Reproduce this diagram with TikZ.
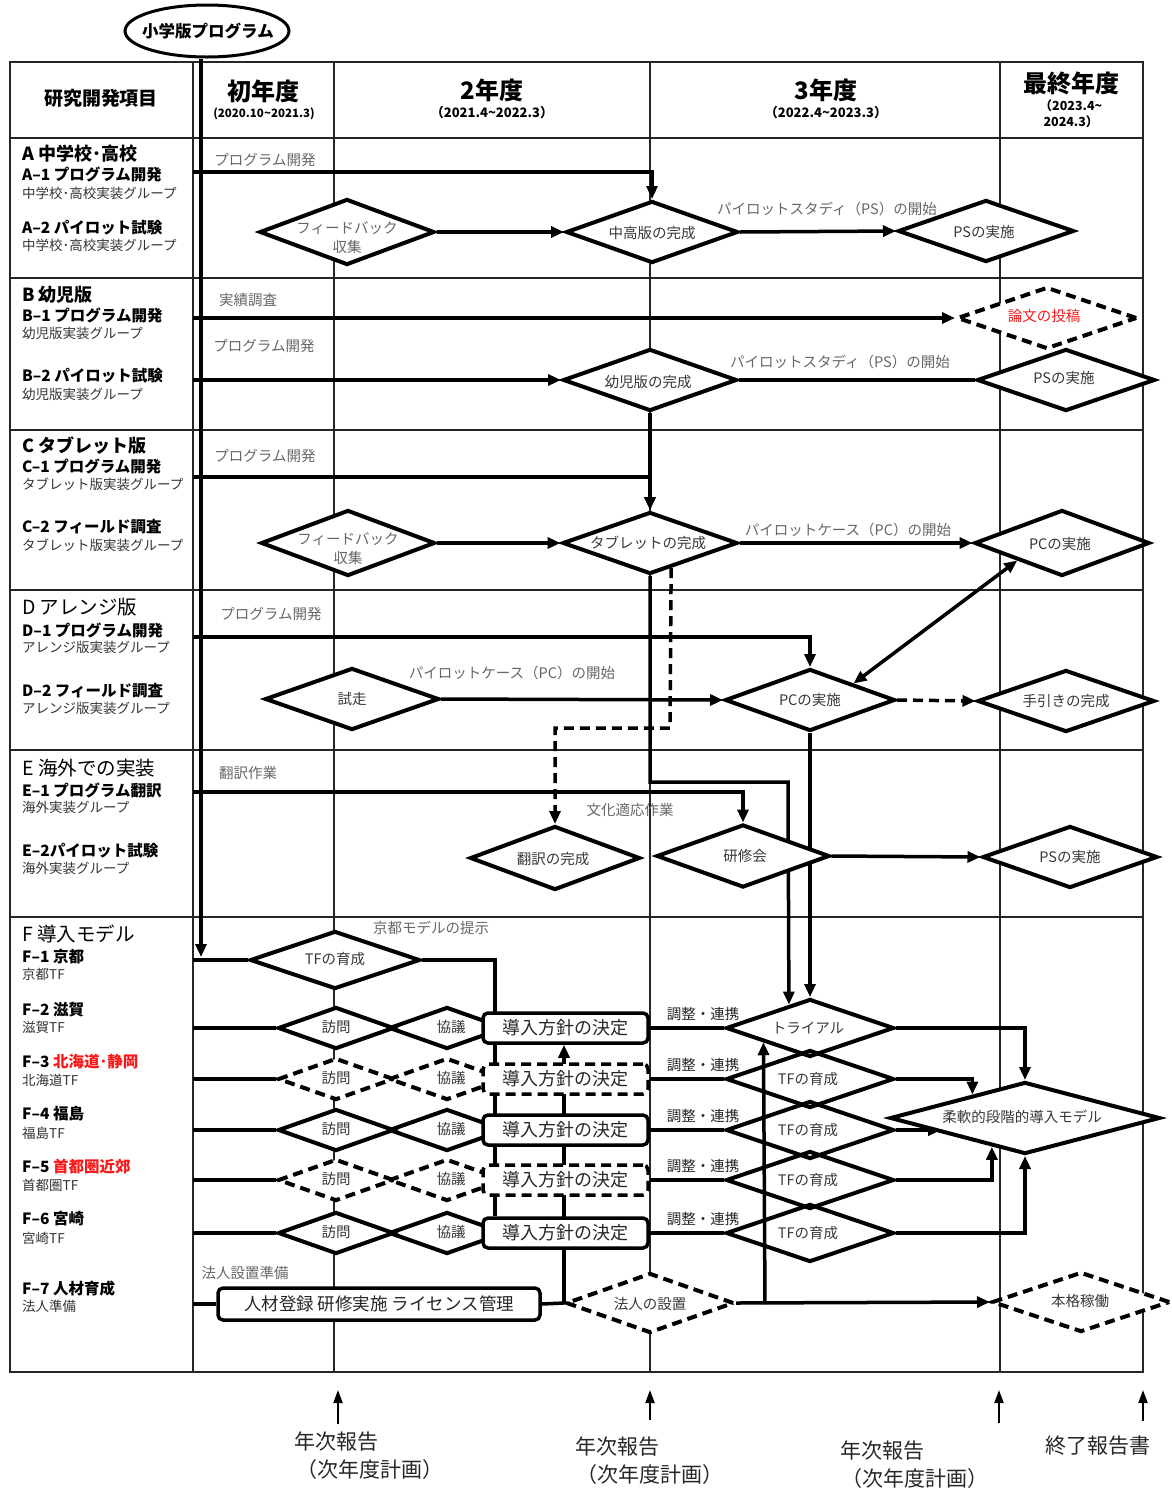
\documentclass[tikz,border=0pt]{standalone}
\usepackage{fontspec}
\setmainfont{Noto Sans CJK JP}
\usetikzlibrary{shapes.geometric,arrows.meta,calc}
\pgfdeclarelayer{bg}\pgfdeclarelayer{conn}\pgfsetlayers{bg,conn,main}
\definecolor{tg}{gray}{0.22}
\definecolor{lg}{gray}{0.40}
\definecolor{jred}{RGB}{250,25,25}
\newcommand\fs[2]{\fontsize{#1}{#2}\selectfont}
\newcommand\tld{\textasciitilde}
\tikzset{
 tline/.style={line width=1.6pt,black!85},
 tborder/.style={line width=2.4pt,black!85},
 flow/.style={line width=3.5pt,black},
 arr/.style={flow,-{Triangle[length=13pt,width=11pt]}},
 biarr/.style={flow,{Triangle[length=13pt,width=11pt]}-{Triangle[length=13pt,width=11pt]}},
 barr/.style={line width=2pt,-{Triangle[length=13pt,width=9pt]}},
 dashd/.style={dash pattern=on 10pt off 6pt},
 dia/.style={diamond,draw,line width=4pt,inner sep=0pt,fill=white},
 odia/.style={diamond,draw,line width=4pt,inner sep=0pt},
 polbox/.style={draw,rectangle,rounded corners=5pt,line width=3.5pt,fill=white,inner sep=0pt,minimum width=165pt,minimum height=30pt,font=\fs{18}{20},text=black!85},
 dtext/.style={inner sep=0pt,text=tg,font=\fs{14.5}{19},align=center},
 ltext/.style={inner sep=0pt,text=lg,font=\fs{14.5}{19},align=center},
 sect/.style={anchor=west,inner sep=0pt,font=\bfseries\fs{18}{20}},
 sectr/.style={anchor=west,inner sep=0pt,font=\fs{19.5}{22}},
 item/.style={anchor=west,inner sep=0pt,font=\bfseries\fs{15.5}{17}},
 grp/.style={anchor=west,inner sep=0pt,font=\fs{13.5}{15},text=black!80},
 hdr/.style={inner sep=0pt,font=\bfseries\fs{24}{26}},
 hdrs/.style={inner sep=0pt,font=\bfseries\fs{13}{16},align=center},
 btext/.style={inner sep=0pt,font=\fs{21}{24},text=black!85},
}
\begin{document}
\begin{tikzpicture}[x=1pt,y=-1pt]
\useasboundingbox (0,0) rectangle (1171,1492);
\begin{pgfonlayer}{bg}
\draw[tborder] (10,62) rectangle (1143,1372);
\foreach \yy in {138,278,430,590,750,917} {\draw[tline] (10,\yy) -- (1143,\yy);}
\foreach \xx in {193,334,650,1000} {\draw[tline] (\xx,62) -- (\xx,1372);}
\end{pgfonlayer}

% ---------- header ----------
\node[inner sep=0pt,font=\bfseries\fs{19}{21}] (h0) at (101,98) {研究開発項目};
\node[hdr] (h1) at (263,91) {初年度};
\node[inner sep=0pt,font=\bfseries\fs{11.5}{13}] (h1s) at (264,114) {(2020.10\tld 2021.3)};
\node[hdr] (h2) at (492,90) {2年度};
\node[hdrs] (h2s) at (492,113) {（2021.4\tld 2022.3）};
\node[hdr] (h3) at (826,90) {3年度};
\node[hdrs] (h3s) at (826,113) {（2022.4\tld 2023.3）};
\node[hdr] (h4) at (1071,83) {最終年度};
\node[hdrs,font=\bfseries\fs{12.5}{16}] (h4s) at (1071,114) {（2023.4\tld\\2024.3）};

\coordinate (trunk) at (201,957);
\node[draw,ellipse,line width=3pt,fill=white,minimum width=164pt,minimum height=52pt,inner sep=0pt] (ell) at (207,31) {};
\node[inner sep=0pt,font=\bfseries\fs{16.5}{18}] (ellt) at (208,31) {小学版プログラム};

% ---------- left column ----------
\node[sect] (la0) at (22,154) {A 中学校･高校};
\node[item] (la1) at (22,174) {A–1 プログラム開発};
\node[grp] (la2) at (22,193) {中学校･高校実装グループ};
\node[item] (la3) at (22,228) {A–2 パイロット試験};
\node[grp] (la4) at (22,245) {中学校･高校実装グループ};
\node[sect] (lb0) at (22,295) {B 幼児版};
\node[item] (lb1) at (22,315) {B–1 プログラム開発};
\node[grp] (lb2) at (22,333) {幼児版実装グループ};
\node[item] (lb3) at (22,376) {B–2 パイロット試験};
\node[grp] (lb4) at (22,394) {幼児版実装グループ};
\node[sect] (lc0) at (22,446) {C タブレット版};
\node[item] (lc1) at (22,466) {C–1 プログラム開発};
\node[grp] (lc2) at (22,484) {タブレット版実装グループ};
\node[item] (lc3) at (22,527) {C–2 フィールド調査};
\node[grp] (lc4) at (22,545) {タブレット版実装グループ};
\node[sectr] (ld0) at (22,607) {D アレンジ版};
\node[item] (ld1) at (22,630) {D–1 プログラム開発};
\node[grp] (ld2) at (22,647) {アレンジ版実装グループ};
\node[item] (ld3) at (22,691) {D–2 フィールド調査};
\node[grp] (ld4) at (22,708) {アレンジ版実装グループ};
\node[sectr] (le0) at (22,768) {E 海外での実装};
\node[item] (le1) at (22,790) {E–1 プログラム翻訳};
\node[grp] (le2) at (22,807) {海外実装グループ};
\node[item] (le3) at (22,851) {E–2パイロット試験};
\node[grp] (le4) at (22,868) {海外実装グループ};
\node[sectr] (lf0) at (22,934) {F 導入モデル};
\node[item] (lf1) at (22,957) {F–1 京都};
\node[grp] (lf1g) at (22,974) {京都TF};
\node[item] (lf2) at (22,1010) {F–2 滋賀};
\node[grp] (lf2g) at (22,1027) {滋賀TF};
\node[item] (lf3) at (22,1062) {F–3 \textcolor{jred}{北海道･静岡}};
\node[grp] (lf3g) at (22,1080) {北海道TF};
\node[item] (lf4) at (22,1114) {F–4 福島};
\node[grp] (lf4g) at (22,1133) {福島TF};
\node[item] (lf5) at (22,1167) {F–5 \textcolor{jred}{首都圏近郊}};
\node[grp] (lf5g) at (22,1185) {首都圏TF};
\node[item] (lf6) at (22,1219) {F–6 宮崎};
\node[grp] (lf6g) at (22,1238) {宮崎TF};
\node[item] (lf7) at (22,1289) {F–7 人材育成};
\node[grp] (lf7g) at (22,1306) {法人準備};

% ---------- start coordinates ----------
\coordinate (a1s) at (193,172);
\coordinate (b1s) at (193,318);
\coordinate (b2s) at (193,380);
\coordinate (c1s) at (193,477);
\coordinate (d1s) at (193,637);
\coordinate (e1s) at (193,792);
\coordinate (f1s) at (193,960);
\coordinate (f7s) at (193,1304);
\coordinate (j1) at (788,782);
\coordinate (dc) at (670,728);
\coordinate (x495) at (495,960);
\coordinate (x765) at (765,1304);

% ---------- diamonds rows A-E ----------
\node[dia,minimum width=175pt,minimum height=66pt] (fb1) at (347,232) {};
\node[ltext] (fb1t) at (347,238) {フィードバック\\収集};
\node[dia,minimum width=172pt,minimum height=62pt] (chu) at (652,232) {};
\node[dtext] (chut) at (652,233) {中高版の完成};
\node[dia,minimum width=176pt,minimum height=62pt] (psa) at (986,231) {};
\node[dtext] (psat) at (984,232) {PSの実施};
\node[dia,dashd,minimum width=180pt,minimum height=62pt] (ron) at (1047,318) {};
\node[dtext,text=jred] (ront) at (1044,316) {論文の投稿};
\node[dia,minimum width=174pt,minimum height=62pt] (yoji) at (650,380) {};
\node[dtext] (yojit) at (648,382) {幼児版の完成};
\node[dia,minimum width=178pt,minimum height=62pt] (psb) at (1066,380) {};
\node[dtext] (psbt) at (1064,378) {PSの実施};
\node[dia,minimum width=174pt,minimum height=66pt] (fb2) at (348,543) {};
\node[ltext] (fb2t) at (348,549) {フィードバック\\収集};
\node[dia,minimum width=175pt,minimum height=62pt] (tab) at (650,543) {};
\node[dtext] (tabt) at (648,543) {タブレットの完成};
\node[dia,minimum width=175pt,minimum height=66pt] (pcc) at (1062,543) {};
\node[dtext] (pcct) at (1060,544) {PCの実施};
\node[dia,minimum width=174pt,minimum height=62pt] (shiso) at (352,699) {};
\node[dtext] (shisot) at (352,699) {試走};
\node[dia,minimum width=170pt,minimum height=62pt] (pcd) at (810,700) {};
\node[dtext] (pcdt) at (810,700) {PCの実施};
\node[dia,minimum width=177pt,minimum height=62pt] (teb) at (1066,701) {};
\node[dtext] (tebt) at (1066,701) {手引きの完成};
\node[dia,minimum width=170pt,minimum height=64pt] (trans) at (555,858) {};
\node[dtext] (transt) at (553,859) {翻訳の完成};
\node[dia,minimum width=173pt,minimum height=63pt] (ken) at (743,856) {};
\node[dtext] (kent) at (745,856) {研修会};
\node[dia,minimum width=175pt,minimum height=62pt] (pse) at (1070,857) {};
\node[dtext] (pset) at (1070,857) {PSの実施};

% ---------- F rows ----------
\node[dia,minimum width=170pt,minimum height=58pt] (tf1) at (335,960) {};
\node[dtext] (tf1t) at (335,959) {TFの育成};
\foreach \i/\yy/\st/\tx in {2/1028//トライアル,3/1079/dashd/TFの育成,4/1130//TFの育成,5/1180/dashd/TFの育成,6/1233//TFの育成} {
  \coordinate (f\i-s) at (193,\yy);
  \node[dia,minimum width=116pt,minimum height=42pt,\st] (kyo\i) at (447,\yy) {};
  \node[dia,minimum width=116pt,minimum height=42pt,\st] (ho\i) at (336,\yy) {};
  \node[polbox,\st] (box\i) at (565.5,\yy) {導入方針の決定};
  \node[dtext] (ho\i t) at (336,\yy-1) {訪問};
  \node[dtext] (kyo\i t) at (451,\yy-1) {協議};
  \node[odia,minimum width=168pt,minimum height=58pt] (tf\i) at (810,\yy) {};
  \node[dtext] (tf\i t) at (808,\yy) {\tx};
  \node[dtext,text=black!85] (cho\i) at (703,\yy-14) {調整・連携};
}
\node[dia,minimum width=270pt,minimum height=72pt] (juu) at (1025,1118) {};
\node[dtext] (juut) at (1022,1117) {柔軟的段階的導入モデル};
\node[polbox,minimum width=322pt,minimum height=32pt,font=\fs{17.5}{20}] (box7) at (379,1304) {人材登録 研修実施 ライセンス管理};
\node[dia,dashd,minimum width=168pt,minimum height=60pt] (hou) at (650,1303) {};
\node[dtext] (hout) at (650,1304) {法人の設置};
\node[dia,dashd,minimum width=178pt,minimum height=60pt] (hon) at (1081,1302) {};
\node[dtext] (hont) at (1080,1301) {本格稼働};

% ---------- plain labels ----------
\node[ltext] (l1) at (265,160) {プログラム開発};
\node[ltext] (l2) at (248,300) {実績調査};
\node[ltext] (l3) at (264,346) {プログラム開発};
\node[ltext] (l4) at (265,456) {プログラム開発};
\node[ltext] (l5) at (271,614) {プログラム開発};
\node[ltext] (l6) at (248,773) {翻訳作業};
\node[ltext] (l7) at (431,928) {京都モデルの提示};
\node[ltext] (l8) at (245,1273) {法人設置準備};
\node[ltext] (p1) at (827,209) {パイロットスタディ（PS）の開始};
\node[ltext] (p2) at (840,362) {パイロットスタディ（PS）の開始};
\node[ltext] (p3) at (848,530) {パイロットケース（PC）の開始};
\node[ltext] (p4) at (512,673) {パイロットケース（PC）の開始};
\node[ltext] (p5) at (630,810) {文化適応作業};

% ---------- bottom ----------
\coordinate (bt1) at (338,1390); \coordinate (bb1) at (338,1424);
\coordinate (bt2) at (650,1390); \coordinate (bb2) at (650,1420);
\coordinate (bt3) at (999,1390); \coordinate (bb3) at (999,1423);
\coordinate (bt4) at (1143,1390); \coordinate (bb4) at (1143,1421);
\node[btext] (r1a) at (336,1442) {年次報告};
\node[btext] (r1b) at (370,1470) {（次年度計画）};
\node[btext] (r2a) at (617,1447) {年次報告};
\node[btext] (r2b) at (650,1475) {（次年度計画）};
\node[btext] (r3a) at (882,1451) {年次報告};
\node[btext] (r3b) at (915,1479) {（次年度計画）};
\node[btext] (r4a) at (1098,1446) {終了報告書};

% ---------- connectors ----------
\begin{pgfonlayer}{conn}
\draw[arr] (ell.south -| trunk) -- (trunk);
\draw[arr] (a1s) -| (chu.north);
\draw[arr] (fb1.east) -- (chu.west);
\draw[arr] (chu.east) -- (psa.west);
\draw[arr] (b1s) -- (ron.west);
\draw[arr] (b2s) -- (yoji.west);
\draw[flow] (yoji.east) -- (psb.west);
\draw[arr] (yoji.south) -- (tab.north);
\draw[arr] (c1s) -| (tab.north);
\draw[arr] (fb2.east) -- (tab.west);
\draw[arr] (tab.east) -- (pcc.west);
\draw[arr] (d1s) -| (pcd.north);
\draw[arr] (shiso.east) -- (pcd.west);
\draw[arr,dashd] (pcd.east) -- (teb.west);
\draw[biarr] (pcd.north east) -- (pcc.south west);
\draw[arr] (tab.south) |- (j1) -- (tf2.132);
\draw[arr] (pcd.south) -- (tf2.north);
\draw[arr,dashd] (tab.-50) -- (dc) -| (trans.north);
\draw[arr] (e1s) -| (ken.north);
\draw[arr] (ken.east) -- (pse.west);
\draw[flow] (f1s) -- (tf1.west);
\draw[flow] (tf1.east) -| (x495 |- box6.north);
\draw[arr] (hou.west) -- (hou.west |- box2.south);
\foreach \i in {2,...,6} {
  \draw[flow] (f\i-s) -- (ho\i.west);
  \draw[flow] (box\i.east) -- (tf\i.west);
}
\draw[arr] (tf2.east) -| (juu.north);
\draw[arr] (tf3.east) -| (juu.156);
\draw[arr] (tf4.east) -- (tf4.east -| juu.190);
\draw[arr] (tf5.east) -| (juu.221);
\draw[arr] (tf6.east) -| (juu.south);
\draw[flow] (f7s) -- (box7.west);
\draw[flow] (box7.east) -- (hou.west);
\draw[arr] (hou.east) -- (hon.west);
\draw[arr] (x765) -- (tf2.197);
\draw[barr] (bb1) -- (bt1);
\draw[barr] (bb2) -- (bt2);
\draw[barr] (bb3) -- (bt3);
\draw[barr] (bb4) -- (bt4);
\end{pgfonlayer}
\end{tikzpicture}
\end{document}
